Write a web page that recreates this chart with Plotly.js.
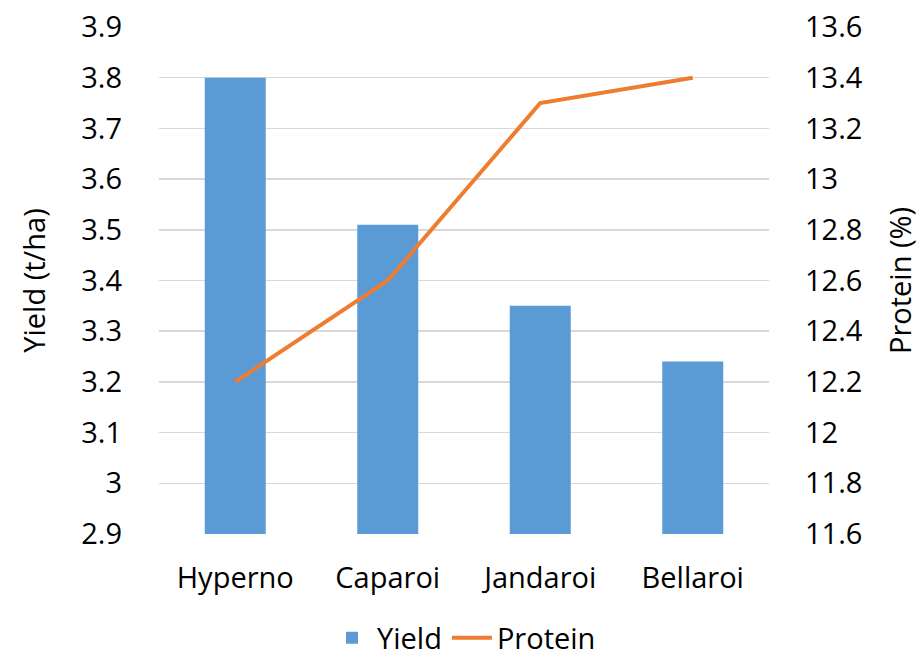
<!DOCTYPE html>
<html>
<head>
<meta charset="utf-8">
<script src="https://cdn.plot.ly/plotly-3.0.1.min.js"></script>
<style>html,body{margin:0;padding:0;background:#fff;}#chart{width:920px;height:663px;}</style>
</head>
<body>
<div id="chart"></div>
<script>
const varieties = ["Hyperno", "Caparoi", "Jandaroi", "Bellaroi"];
const yieldValues = [3.80, 3.51, 3.35, 3.24];
const proteinValues = [12.2, 12.6, 13.3, 13.4];

const FONT = "'Open Sans', Lato, sans-serif";
const FS = 29;

const traces = [
  {
    type: "bar",
    name: "Yield",
    x: varieties,
    y: yieldValues,
    marker: {color: "#5B9BD5"},
    yaxis: "y"
  },
  {
    type: "scatter",
    mode: "lines",
    name: "Protein",
    x: varieties,
    y: proteinValues,
    line: {color: "#ED7D31", width: 4},
    yaxis: "y2"
  }
];

const layout = {
  width: 920,
  height: 663,
  margin: {l: 159, r: 151, t: 27, b: 129, autoexpand: false},
  paper_bgcolor: "#ffffff",
  plot_bgcolor: "#ffffff",
  font: {family: FONT, size: FS, color: "#000000"},
  bargap: 0.6,
  showlegend: true,
  legend: {
    orientation: "h",
    x: 0.5, xanchor: "center",
    y: -0.205, yanchor: "middle",
    font: {family: FONT, size: FS, color: "#000000"},
    itemwidth: 40
  },
  xaxis: {
    type: "category",
    showgrid: false,
    zeroline: false,
    showline: false,
    ticks: "",
    ticklabelstandoff: 24,
    tickfont: {family: FONT, size: FS, color: "#000000"}
  },
  yaxis: {
    range: [2.9, 3.9],
    dtick: 0.1,
    tick0: 2.9,
    showgrid: true,
    gridcolor: "#D9D9D9",
    gridwidth: 1.5,
    zeroline: false,
    showline: false,
    ticks: "",
    ticklabelstandoff: 36,
    tickfont: {family: FONT, size: FS, color: "#000000"},
    title: {text: "Yield (t/ha)", font: {family: FONT, size: FS, color: "#000000"}, standoff: 27}
  },
  yaxis2: {
    range: [11.6, 13.6],
    dtick: 0.2,
    tick0: 11.6,
    overlaying: "y",
    side: "right",
    showgrid: false,
    zeroline: false,
    showline: false,
    ticks: "",
    ticklabelstandoff: 35,
    tickfont: {family: FONT, size: FS, color: "#000000"},
    title: {text: "Protein (%)", font: {family: FONT, size: FS, color: "#000000"}, standoff: 28}
  }
};

Plotly.newPlot("chart", traces, layout, {displayModeBar: false, staticPlot: true});
</script>
</body>
</html>
